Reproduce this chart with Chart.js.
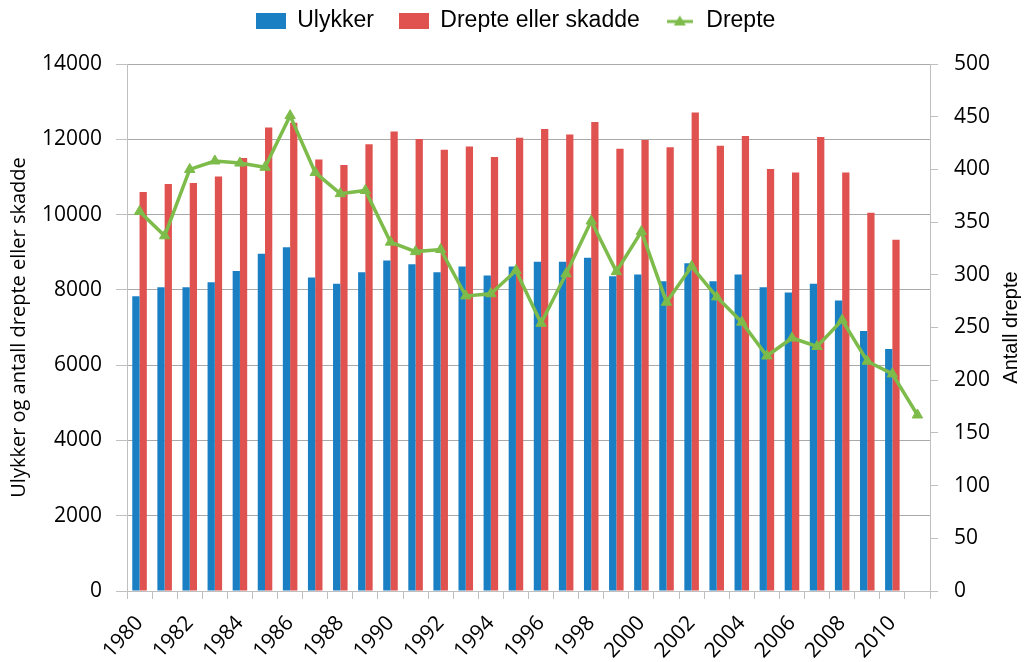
<!DOCTYPE html>
<html>
<head>
<meta charset="utf-8">
<script src="https://cdn.jsdelivr.net/npm/chart.js@4/dist/chart.umd.min.js"></script>
<style>
  html, body { margin: 0; padding: 0; background: #fff; overflow: hidden; }
  #wrap { width: 1025px; height: 662px; position: relative; }
</style>
</head>
<body>
<div id="wrap"><canvas id="ulykkerChart"></canvas></div>
<script>
const years = ['1980','1981','1982','1983','1984','1985','1986','1987','1988','1989',
  '1990','1991','1992','1993','1994','1995','1996','1997','1998','1999',
  '2000','2001','2002','2003','2004','2005','2006','2007','2008','2009','2010','2011'];

const ulykker = [7830, 8070, 8070, 8200, 8500, 8960, 9130, 8330, 8160, 8470,
  8780, 8680, 8470, 8620, 8380, 8620, 8750, 8750, 8850, 8360,
  8410, 8230, 8710, 8230, 8410, 8070, 7930, 8160, 7720, 6910, 6430, null];

const drepteEllerSkadde = [10600, 10810, 10840, 11010, 11500, 12310, 12440, 11460, 11320, 11870,
  12210, 12010, 11720, 11810, 11530, 12040, 12270, 12130, 12460, 11750,
  11980, 11790, 12710, 11830, 12090, 11210, 11120, 12060, 11120, 10050, 9330, null];

const drepte = [360, 337, 400, 408, 406, 402, 451, 397, 377, 380,
  331, 322, 324, 280, 282, 304, 254, 301, 351, 303,
  341, 274, 308, 279, 255, 223, 240, 232, 257, 218, 206, 167];

const leftTicks = [0, 2000, 4000, 6000, 8000, 10000, 12000, 14000];
const rightTicks = [0, 50, 100, 150, 200, 250, 300, 350, 400, 450, 500];

const BLUE = '#1b80c3';
const RED = '#e0524f';
const GREEN = '#7dbb4a';
const GRID = '#a9a9a9';
const AXIS = '#bfbfbf';

// legend icons
function rectIcon(color) {
    const c = document.createElement('canvas');
    c.width = 30; c.height = 16;
    const g = c.getContext('2d');
    g.fillStyle = color;
    g.fillRect(0, 0, 30, 16);
    return c;
}
function lineIcon(color) {
    const c = document.createElement('canvas');
    c.width = 26; c.height = 16;
    const g = c.getContext('2d');
    g.strokeStyle = color;
    g.lineWidth = 3;
    g.beginPath(); g.moveTo(0, 9); g.lineTo(26, 9); g.stroke();
    g.fillStyle = color;
    g.beginPath(); g.moveTo(13, 3); g.lineTo(19, 13); g.lineTo(7, 13); g.closePath(); g.fill();
    return c;
}
const icons = [rectIcon(BLUE), rectIcon(RED), lineIcon(GREEN)];

// keep the legend near the top but leave room above the plot
const legendTweak = {
    id: 'legendTweak',
    afterInit(chart) {
        const lg = chart.legend;
        if (!lg) return;
        const fit = lg.fit.bind(lg);
        lg.fit = function() { fit(); this.height = 64; };
        const draw = lg.draw.bind(lg);
        lg.draw = function() {
            chart.ctx.save();
            chart.ctx.translate(3, -16);
            draw();
            chart.ctx.restore();
        };
    }
};

const rightTitle = {
    id: 'rightTitle',
    afterDraw(chart) {
        const a = chart.chartArea;
        const ctx = chart.ctx;
        ctx.save();
        ctx.translate(1011, (a.top + a.bottom) / 2);
        ctx.rotate(-Math.PI / 2);
        ctx.font = '20px "Liberation Sans"';
        ctx.fillStyle = '#000';
        ctx.textAlign = 'center';
        ctx.textBaseline = 'middle';
        ctx.fillText('Antall drepte', 0, 0);
        ctx.restore();
    }
};

Chart.defaults.color = '#000';
Chart.defaults.font.family = '"Open Sans"';

const ctx = document.getElementById('ulykkerChart').getContext('2d');
new Chart(ctx, {
    type: 'bar',
    data: {
        labels: years,
        datasets: [
            {
                label: 'Ulykker',
                data: ulykker,
                backgroundColor: BLUE,
                yAxisID: 'y',
                categoryPercentage: 0.58,
                barPercentage: 1.0,
                order: 1
            },
            {
                label: 'Drepte eller skadde',
                data: drepteEllerSkadde,
                backgroundColor: RED,
                yAxisID: 'y',
                categoryPercentage: 0.58,
                barPercentage: 1.0,
                order: 1
            },
            {
                type: 'line',
                label: 'Drepte',
                data: drepte,
                borderColor: GREEN,
                backgroundColor: GREEN,
                borderWidth: 3.5,
                pointStyle: 'triangle',
                pointRadius: 6,
                pointBorderWidth: 1,
                yAxisID: 'y1',
                tension: 0,
                order: 0
            }
        ]
    },
    options: {
        responsive: true,
        maintainAspectRatio: false,
        animation: false,
        layout: { padding: 0 },
        plugins: {
            tooltip: { enabled: false },
            legend: {
                position: 'top',
                labels: {
                    usePointStyle: true,
                    pointStyleWidth: 30,
                    boxHeight: 16,
                    padding: 25,
                    font: { family: '"Liberation Sans"', size: 23 },
                    generateLabels: function(chart) {
                        return chart.data.datasets.map((ds, i) => ({
                            text: ds.label,
                            datasetIndex: i,
                            pointStyle: icons[i],
                            fillStyle: 'transparent',
                            strokeStyle: 'transparent',
                            lineWidth: 0,
                            fontColor: '#000',
                            hidden: false
                        }));
                    }
                }
            }
        },
        scales: {
            x: {
                grid: { offset: true, drawOnChartArea: false, drawTicks: true, tickLength: 8, color: AXIS },
                border: { color: AXIS },
                ticks: {
                    autoSkip: false,
                    maxRotation: 47,
                    minRotation: 47,
                    padding: 12,
                    font: { size: 21 },
                    callback: function(value, index) {
                        return index % 2 === 0 ? years[index] : '';
                    }
                },
                afterFit: function(scale) { scale.height = 71; }
            },
            y: {
                position: 'left',
                min: 0,
                max: 14000,
                afterBuildTicks: function(scale) { scale.ticks = leftTicks.map(v => ({ value: v })); },
                grid: { color: GRID, tickColor: AXIS, tickLength: 11 },
                border: { color: AXIS },
                ticks: {
                    padding: 14,
                    font: { size: 21 },
                    callback: function(value) { return String(value); }
                },
                title: {
                    display: true,
                    text: 'Ulykker og antall drepte eller skadde',
                    font: { size: 20 },
                    padding: { top: 7, bottom: 0 }
                },
                afterFit: function(scale) { scale.width = 127; }
            },
            y1: {
                position: 'right',
                min: 0,
                max: 500,
                afterBuildTicks: function(scale) { scale.ticks = rightTicks.map(v => ({ value: v })); },
                grid: { drawOnChartArea: false, color: AXIS, tickLength: 8 },
                border: { color: AXIS },
                ticks: {
                    padding: 16,
                    font: { size: 21 },
                    callback: function(value) { return String(value); }
                },
                afterFit: function(scale) { scale.width = 95; }
            }
        }
    },
    plugins: [legendTweak, rightTitle]
});
</script>
</body>
</html>
